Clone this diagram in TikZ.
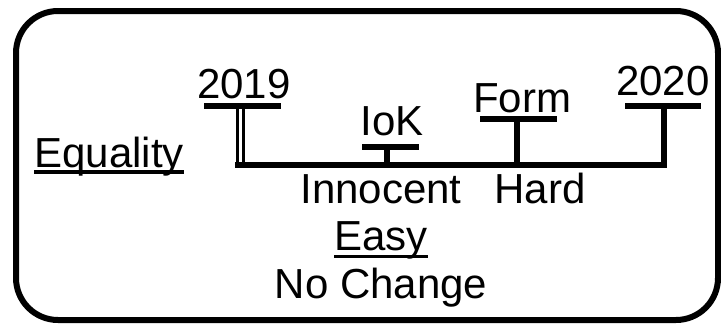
\documentclass[tikz,border=0pt]{standalone}
\usepackage{fontspec}
\setmainfont{Liberation Sans}
\begin{document}
\begin{tikzpicture}[x=1pt,y=-1pt,
  lbl/.style={font=\fontsize{42}{50}\selectfont, inner sep=0pt, anchor=base},
  tickbar/.style={fill=black, draw=none, inner sep=0pt, minimum height=6pt},
  stem/.style={line width=6pt},
  mainline/.style={line width=6pt, line join=miter},
  uline/.style={line width=3.5pt},
  dbl/.style={line width=3pt, double=white, double distance=3pt}]
\fill[white] (0,0) rectangle (721,324);
\useasboundingbox (0,0) rectangle (721,324);
\draw[line width=6pt, rounded corners=42pt] (16,11) rectangle (718,320);

% labels
\node[lbl] (t2019) at (244,98) {2019};
\node[lbl] (tiok) at (392,135) {IoK};
\node[lbl] (tform) at (522,112) {Form};
\node[lbl] (t2020) at (663,95) {2020};
\node[lbl] (teq) at (109,167) {Equality};
\node[lbl] (tinn) at (381,203) {Innocent};
\node[lbl] (thard) at (540,203) {Hard};
\node[lbl] (teasy) at (381,250) {Easy};
\node[lbl] (tnc) at (381,298) {No Change};

% underlines
\draw[uline] ([yshift=-5pt]teq.base west) -- ([yshift=-5pt]teq.base east);
\draw[uline] ([yshift=-6.5pt]teasy.base west) -- ([yshift=-6.5pt]teasy.base east);

% tick bars
\node[tickbar, minimum width=77pt] (k2019) at (242.5,106) {};
\node[tickbar, minimum width=57pt] (kiok) at (390.5,147) {};
\node[tickbar, minimum width=77pt] (kform) at (518.5,119) {};
\node[tickbar, minimum width=76pt] (k2020) at (662.5,105.5) {};

% main line coordinates
\coordinate (m0) at (235,165);
\coordinate (m1) at (663.5,165);
\coordinate (d0) at (240.5,109);
\coordinate (d1) at (240.5,163);

% stems
\draw[dbl] (d0) -- (d1);
\draw[stem] (kiok.center -| 387,0) -- (m0 -| 387,0);
\draw[stem] (kform.center -| 516.5,0) -- (m0 -| 516.5,0);

% main line with 2020 stem
\draw[mainline] (m0) -- (m1) -- (m1 |- k2020.center);
\end{tikzpicture}
\end{document}
